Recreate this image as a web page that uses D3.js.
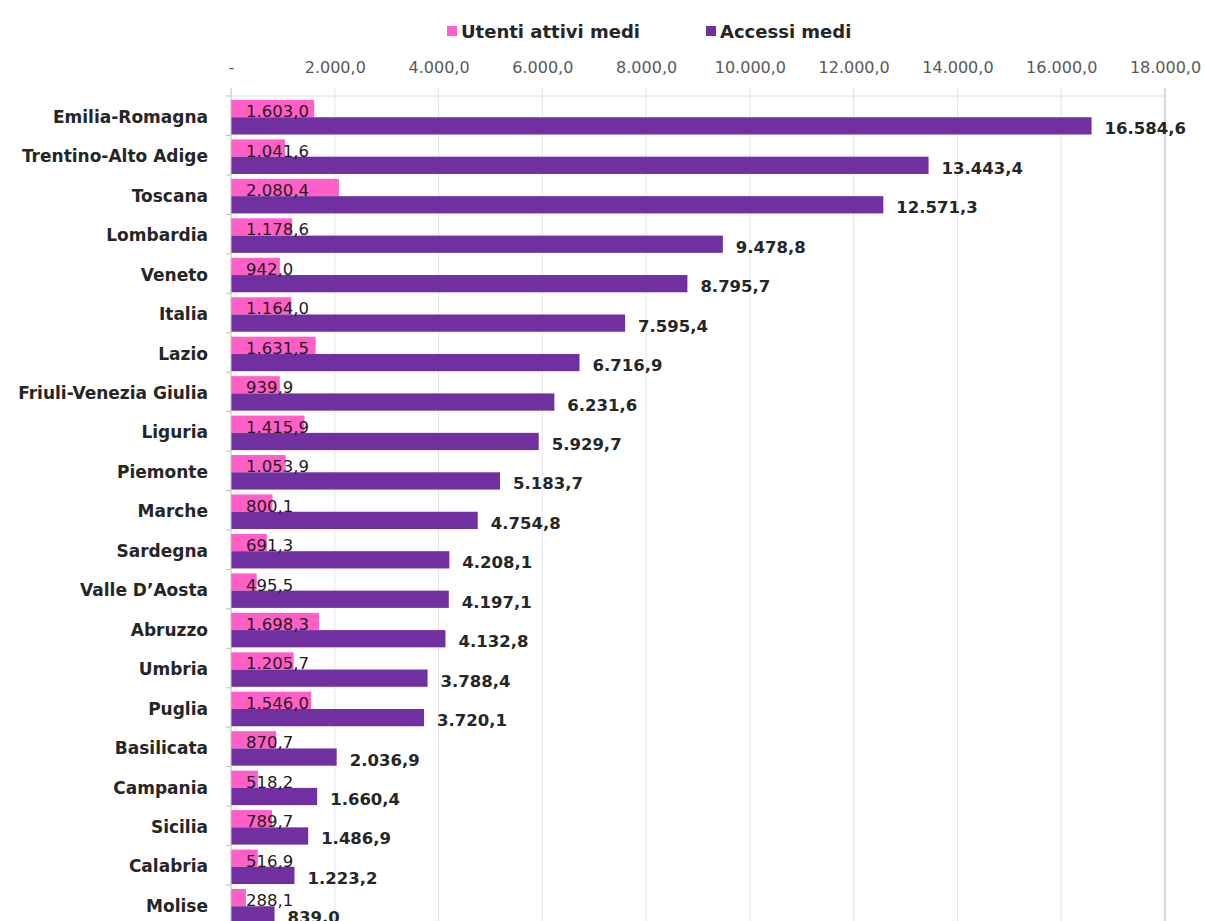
<!DOCTYPE html>
<html>
<head>
<meta charset="utf-8">
<script src="https://cdn.jsdelivr.net/npm/d3@7/dist/d3.min.js"></script>
<style>
  html, body { margin: 0; padding: 0; background: #ffffff; }
  svg { display: block; font-family: "DejaVu Sans", sans-serif; }
</style>
</head>
<body>
<svg id="chart" width="1205" height="921"></svg>
<script>
// Regions ordered by average accesses
const categories = [
  "Emilia-Romagna", "Trentino-Alto Adige", "Toscana", "Lombardia", "Veneto",
  "Italia", "Lazio", "Friuli-Venezia Giulia", "Liguria", "Piemonte", "Marche",
  "Sardegna", "Valle D’Aosta", "Abruzzo", "Umbria", "Puglia", "Basilicata",
  "Campania", "Sicilia", "Calabria", "Molise"
];
const utentiAttiviMedi = [
  1603.0, 1041.6, 2080.4, 1178.6, 942.0, 1164.0, 1631.5, 939.9, 1415.9, 1053.9,
  800.1, 691.3, 495.5, 1698.3, 1205.7, 1546.0, 870.7, 518.2, 789.7, 516.9, 288.1
];
const accessiMedi = [
  16584.6, 13443.4, 12571.3, 9478.8, 8795.7, 7595.4, 6716.9, 6231.6, 5929.7,
  5183.7, 4754.8, 4208.1, 4197.1, 4132.8, 3788.4, 3720.1, 2036.9, 1660.4,
  1486.9, 1223.2, 839.0
];
const seriesNames = ["Utenti attivi medi", "Accessi medi"];
const seriesColors = ["#ff5fc6", "#7030a0"];
const tickValues = [0, 2000, 4000, 6000, 8000, 10000, 12000, 14000, 16000, 18000];

const it = d3.formatLocale({ decimal: ",", thousands: ".", grouping: [3], currency: ["", " €"] });
const fmt = v => v === 0 ? "-" : it.format(",.1f")(v);

const rows = categories.map((c, i) => ({ cat: c, values: [utentiAttiviMedi[i], accessiMedi[i]] }));

const svg = d3.select("#chart");
const plotTop = 96, plotLeft = 231, plotRight = 1165;
const bandStep = 39.45;

const x = d3.scaleLinear().domain([0, 18000]).range([plotLeft, plotRight]);
const y = d3.scaleBand().domain(categories)
  .range([plotTop, plotTop + bandStep * categories.length]).padding(0);
const sub = d3.scaleBand().domain([0, 1]).range([4, 38.5]).padding(0);

// Vertical gridlines with short ticks above the plot
const grid = svg.append("g");
grid.selectAll("line").data(tickValues.slice(1)).join("line")
  .attr("x1", d => x(d)).attr("x2", d => x(d))
  .attr("y1", plotTop - 8).attr("y2", 921)
  .attr("stroke", d => d === 18000 ? "#c3ccd8" : "#e3e5ea")
  .attr("stroke-width", d => d === 18000 ? 1.5 : 1);

// Top border of the plot area
svg.append("line")
  .attr("x1", plotLeft).attr("x2", plotRight)
  .attr("y1", plotTop).attr("y2", plotTop)
  .attr("stroke", "#dcdcdc");

// Tick labels of the value axis (drawn above the plot)
const xAxis = d3.axisTop(x).tickValues(tickValues).tickFormat(fmt).tickSize(0).tickPadding(0);
const gx = svg.append("g").attr("transform", `translate(0, 73)`).call(xAxis);
gx.select(".domain").remove();
gx.selectAll("text")
  .attr("fill", "#595959")
  .attr("font-size", "16px")
  .attr("font-family", "DejaVu Sans, sans-serif");

// Bars
const groups = svg.append("g").selectAll("g").data(rows).join("g")
  .attr("transform", d => `translate(0, ${y(d.cat)})`);

groups.selectAll("rect").data(d => d.values.map((v, k) => ({ v, k }))).join("rect")
  .attr("x", x(0))
  .attr("y", d => sub(d.k))
  .attr("width", d => x(d.v) - x(0))
  .attr("height", sub.bandwidth())
  .attr("fill", d => seriesColors[d.k]);

// Value labels: users at the bar base, accesses after the bar end
groups.append("text")
  .attr("x", x(0) + 15)
  .attr("y", d => sub(0) + sub.bandwidth() / 2 + 3)
  .attr("dominant-baseline", "central")
  .attr("font-size", "16.5px")
  .attr("fill", "#1e1a1e")
  .text(d => fmt(d.values[0]));

groups.append("text")
  .attr("x", d => x(d.values[1]) + 13)
  .attr("y", d => sub(1) + sub.bandwidth() / 2 + 3)
  .attr("dominant-baseline", "central")
  .attr("font-size", "16.5px")
  .attr("font-weight", "bold")
  .attr("fill", "#262626")
  .text(d => fmt(d.values[1]));

// Category axis on the left
const yAxis = d3.axisLeft(y).tickSize(0).tickPadding(23);
const gy = svg.append("g").attr("transform", `translate(${plotLeft}, 0)`).call(yAxis);
gy.select(".domain").attr("stroke", "#bfbfbf").attr("d", `M0,${plotTop - 8}V921`);
gy.selectAll("text")
  .attr("font-size", "17px")
  .attr("font-weight", "bold")
  .attr("font-family", "DejaVu Sans, sans-serif")
  .attr("fill", "#262626")
  .attr("dy", "0.42em");
// boundary ticks between categories
svg.append("g").selectAll("line")
  .data(d3.range(categories.length + 1))
  .join("line")
  .attr("x1", plotLeft - 5).attr("x2", plotLeft)
  .attr("y1", i => plotTop + i * y.step()).attr("y2", i => plotTop + i * y.step())
  .attr("stroke", "#bfbfbf");

// Legend
const legendItems = [
  { name: seriesNames[0], color: seriesColors[0], x: 447 },
  { name: seriesNames[1], color: seriesColors[1], x: 706 }
];
const lg = svg.append("g").selectAll("g").data(legendItems).join("g")
  .attr("transform", d => `translate(${d.x}, 31)`);
lg.append("rect").attr("x", 0).attr("y", -5).attr("width", 10).attr("height", 10)
  .attr("fill", d => d.color);
lg.append("text").attr("x", 14).attr("y", 0)
  .attr("dominant-baseline", "central")
  .attr("font-size", "18px").attr("font-weight", "bold").attr("fill", "#262626")
  .text(d => d.name);
</script>
</body>
</html>
